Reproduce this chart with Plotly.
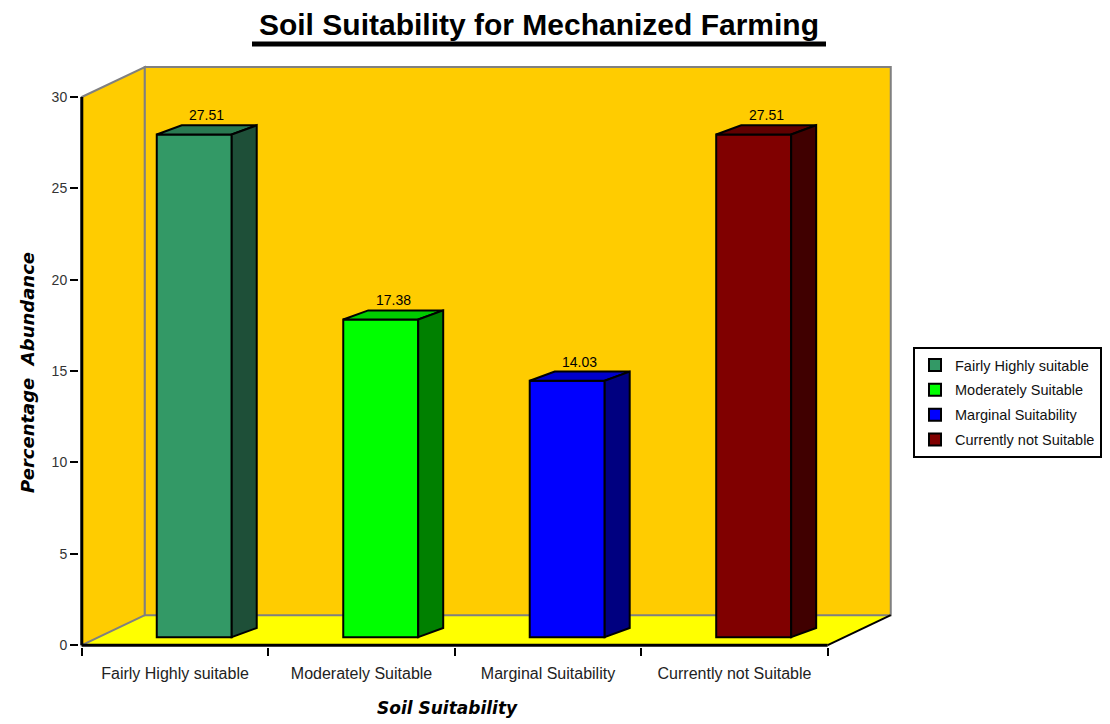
import plotly.graph_objects as go

# ---------------- data ----------------
categories = ["Fairly Highly suitable", "Moderately Suitable", "Marginal Suitability", "Currently not Suitable"]
values = [27.51, 17.38, 14.03, 27.51]
value_labels = ["27.51", "17.38", "14.03", "27.51"]
y_tick_values = [0, 5, 10, 15, 20, 25, 30]
front_colors = ["#339966", "#00FF00", "#0000FF", "#800000"]
top_colors = ["#2A7A52", "#00CC00", "#0000CC", "#600000"]
side_colors = ["#1E4F38", "#008000", "#000080", "#400000"]

# ---------------- geometry / styling ----------------
OFF = 8                      # page body margin of the html output
W, H = 1110 - OFF, 724 - OFF
ML, MR, MT, MB = 71, 217, 57, 77
XR = [-0.515, 3.85]
YR = [-0.1, 31.75]
WALL_DX, WALL_DY = 0.338, 1.64      # depth of the chart box (data units)
BAR_OFF_X, BAR_BASE = -0.098, 0.44  # front face position of bars
BAR_W = 0.402
BAR_DX, BAR_DY = 0.134, 0.5         # bar depth
WALL_COLOR = "#FFCC00"
FLOOR_COLOR = "#FFFF00"
EDGE_GRAY = "#808080"

positions = list(range(len(categories)))
x_left = -0.5
x_right = len(categories) - 0.5
y_top = y_tick_values[-1]


def px_x(px):
    return (px - OFF - ML) / (W - ML - MR)


def px_y(py):
    return (H - MB - (py - OFF)) / (H - MT - MB)


def path(points):
    return "M " + " L ".join(f"{x},{y}" for x, y in points) + " Z"


fig = go.Figure()

# front faces of bars
for i, (cat, v) in enumerate(zip(categories, values)):
    fig.add_trace(go.Bar(
        x=[positions[i]], y=[v], base=BAR_BASE, width=BAR_W, offset=BAR_OFF_X,
        name=cat, legendgroup=cat,
        marker=dict(color=front_colors[i], line=dict(color="black", width=2)),
        hoverinfo="skip",
    ))

shapes = []
# floor
shapes.append(dict(type="path", xref="x", yref="y", layer="below",
                   path=path([(x_left, 0), (x_right, 0), (x_right + WALL_DX, WALL_DY), (x_left + WALL_DX, WALL_DY)]),
                   fillcolor=FLOOR_COLOR, line=dict(width=0)))
# left wall
shapes.append(dict(type="path", xref="x", yref="y", layer="below",
                   path=path([(x_left, 0), (x_left, y_top), (x_left + WALL_DX, y_top + WALL_DY), (x_left + WALL_DX, WALL_DY)]),
                   fillcolor=WALL_COLOR, line=dict(color=EDGE_GRAY, width=2)))
# back wall
shapes.append(dict(type="rect", xref="x", yref="y", layer="below",
                   x0=x_left + WALL_DX, x1=x_right + WALL_DX, y0=WALL_DY, y1=y_top + WALL_DY,
                   fillcolor=WALL_COLOR, line=dict(color=EDGE_GRAY, width=2)))
# floor right edge
shapes.append(dict(type="line", xref="x", yref="y", layer="below",
                   x0=x_right, y0=0, x1=x_right + WALL_DX, y1=WALL_DY,
                   line=dict(color="black", width=2)))

# top and side faces of bars
for i, v in enumerate(values):
    xl = positions[i] + BAR_OFF_X
    xr = xl + BAR_W
    top = BAR_BASE + v
    shapes.append(dict(type="path", xref="x", yref="y", layer="above",
                       path=path([(xl, top), (xr, top), (xr + BAR_DX, top + BAR_DY), (xl + BAR_DX, top + BAR_DY)]),
                       fillcolor=top_colors[i], line=dict(color="black", width=2)))
    shapes.append(dict(type="path", xref="x", yref="y", layer="above",
                       path=path([(xr, BAR_BASE), (xr + BAR_DX, BAR_BASE + BAR_DY), (xr + BAR_DX, top + BAR_DY), (xr, top)]),
                       fillcolor=side_colors[i], line=dict(color="black", width=2)))

# axis lines
shapes.append(dict(type="line", xref="x", yref="y", layer="above",
                   x0=x_left, y0=0, x1=x_left, y1=y_top, line=dict(color="black", width=3)))
shapes.append(dict(type="line", xref="x", yref="y", layer="above",
                   x0=x_left, y0=0, x1=x_right, y1=0, line=dict(color="black", width=3)))

# title underline
shapes.append(dict(type="line", xref="paper", yref="paper",
                   x0=px_x(252), x1=px_x(826), y0=px_y(44), y1=px_y(44),
                   line=dict(color="black", width=5)))

annotations = []
for i, v in enumerate(values):
    annotations.append(dict(
        x=positions[i] + BAR_OFF_X + BAR_W / 2 + BAR_DX / 2,
        y=BAR_BASE + v + BAR_DY, xref="x", yref="y",
        text=value_labels[i], showarrow=False, yanchor="bottom", yshift=0,
        font=dict(family="Liberation Sans, Arial", size=14, color="black"),
    ))

annotations.append(dict(
    x=px_x(27), y=px_y(373), xref="paper", yref="paper", text="Percentage  Abundance",
    textangle=-90, showarrow=False, xanchor="center", yanchor="middle",
    font=dict(family="DejaVu Sans", size=18, color="black", weight="bold", style="italic"),
))
annotations.append(dict(
    x=px_x(447), y=px_y(708), xref="paper", yref="paper", text="Soil Suitability",
    showarrow=False, xanchor="center", yanchor="middle",
    font=dict(family="DejaVu Sans", size=17, color="black", weight="bold", style="italic"),
))

fig.update_layout(
    width=W, height=H,
    margin=dict(l=ML, r=MR, t=MT, b=MB, autoexpand=False),
    paper_bgcolor="white", plot_bgcolor="white",
    barmode="overlay",
    title=dict(text="Soil Suitability for Mechanized Farming",
               xref="container", yref="container", x=(539 - OFF) / W, y=1 - (24.5 - OFF) / H,
               xanchor="center", yanchor="middle",
               font=dict(family="Liberation Sans, Arial", size=30, color="black", weight="bold")),
    xaxis=dict(range=XR, tickmode="array",
               tickvals=[p - 0.5 for p in positions] + [positions[-1] + 0.5],
               showticklabels=False, ticks="outside", ticklen=8, tickwidth=2, tickcolor="black",
               showgrid=False, zeroline=False, showline=False),
    xaxis2=dict(range=XR, overlaying="x", anchor="y", side="bottom", tickmode="array",
                tickvals=positions, ticktext=categories, ticks="", ticklabelstandoff=15,
                showgrid=False, zeroline=False, showline=False,
                tickfont=dict(family="Liberation Sans, Arial", size=16, color="#222222")),
    yaxis=dict(range=YR, tickmode="array", tickvals=y_tick_values,
               ticks="outside", ticklen=8, tickwidth=2, tickcolor="black",
               showgrid=False, zeroline=False, showline=False,
               tickfont=dict(family="Liberation Sans, Arial", size=14, color="#333333")),
    legend=dict(x=px_x(913), y=px_y(347), xanchor="left", yanchor="top",
                bordercolor="black", borderwidth=2, bgcolor="white",
                traceorder="grouped", tracegroupgap=3,
                font=dict(family="Liberation Sans, Arial", size=14.5, color="#111111")),
    shapes=shapes, annotations=annotations,
    showlegend=True,
)

# invisible trace to activate xaxis2 for category labels
fig.add_trace(go.Scatter(x=positions, y=[None] * len(positions), xaxis="x2", yaxis="y",
                         mode="markers", showlegend=False, hoverinfo="skip"))

fig.write_html("out.html")
